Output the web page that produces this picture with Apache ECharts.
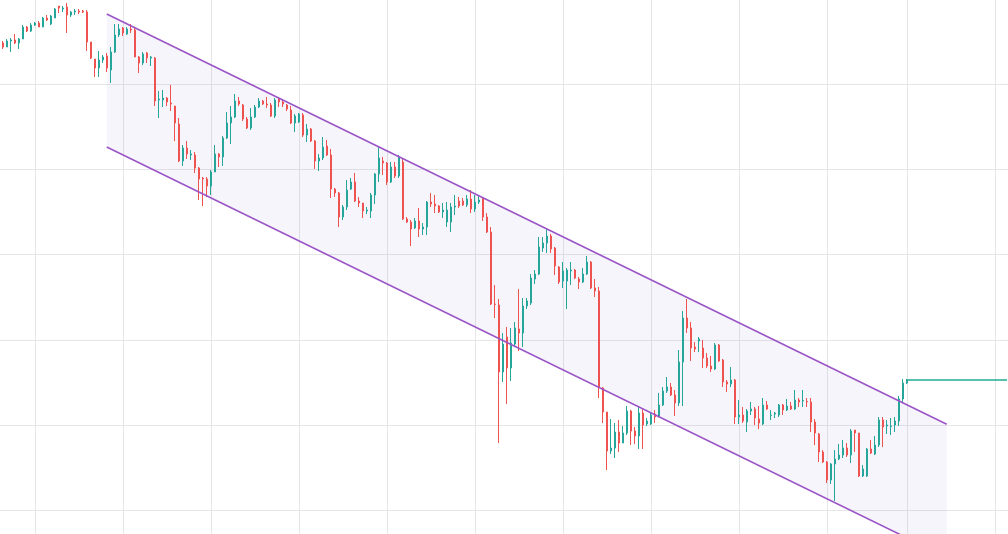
<!DOCTYPE html>
<html>
<head>
<meta charset="utf-8">
<style>
html,body{margin:0;padding:0;background:#ffffff;}
#chart{width:1008px;height:534px;}
</style>
<script src="https://cdn.jsdelivr.net/npm/echarts@6/dist/echarts.min.js"></script>
</head>
<body>
<div id="chart"></div>
<script>
// Candle values (open, close, low, high), bar by bar
const opens = [553,549,555,556,553,557,569,565,571,573,569,578,572,578,590,587,589,581,584,585,585,584,554,537,528,536,540,526,544,561,568,562,567,566,539,533,543,538,538,496,496,498,493,490,472,435,448,441,441,428,418,417,410,424,442,439,458,473,479,495,491,477,468,479,489,495,492,491,480,497,494,491,486,473,474,481,461,467,455,435,438,450,441,407,403,379,389,407,414,395,393,385,385,401,422,435,433,414,429,420,434,377,374,368,375,367,369,394,392,390,384,374,374,389,395,395,391,397,387,394,397,379,364,292,291,224,259,228,252,267,263,290,293,317,322,348,353,360,348,329,315,315,325,326,317,314,322,334,308,305,208,184,145,148,164,153,163,185,165,160,183,172,172,182,179,191,205,209,201,193,234,278,268,249,255,248,238,230,227,251,236,214,212,216,179,181,174,185,187,177,172,191,180.5,182,181,191,186,190,187,196,195,194.5,194,174,162,144,134,116,132,137,141,148,141,166,163,120,120,147,142,151,176,170,169.5,171,175,197,213];
const closes = [549,555,556,553,557,569,565,571,573,569,578,576,580,587,588,588,581,584,585,584,584,554,538,528,536,539,528,544,561,567,563,567,566,539,533,542,538,539,495,497,498,494,492,473,435,448,442,442,428,417,417,410,424,442,439,458,473,479,495,492,477,468,479,489,495,492,491,480,496,494,492,487,473,480,482,461,467,455,435,438,449,441,407,403,379,389,406,414,395,393,385,386,401,422,438,433,414,429,420,439,377,374,367,375,367,369,394,392,390,384,386,386,389,390,390,391,397,387,394,396,379,364,292,291.5,224,252,228,253,268,263,290,295,318,322,349,353,360,347,330,314,325,326,326,318,314,322,334,308,305,209,184,145,148,164,153,163,185,165,160,183,171,175,181,179,191,205,209,201,193,234,278,268,248,247,257,238,230,227,251,235,214,212,216,179,181,175,185,187,178,173,191,187,181,183,191,186,190,187,196,194,195.5,194,174,163,144,134,116,132,137,141,148,141,165,163,120,127,147,143,151,176,169,171,170,175,197,213,216];
const lows = [547,549,544,552,547,557,564,564,570,569,569,575,571,578,583,584,563,579,581,582,583,545,537,519,519,533,524,513,543,559,560,561,563,539,523,531,533,530,490,478,489,490,485,455,434,430,437,436,423,396,390,399,401,424,429,430,457,452,478,490,475,467,466,478,488,491,488,479,478,489,489,485,472,464,473,459,454,454,427,425,436,440,398,399,369,376,386,406,394,389,378,382,378,392,414,421,411,413,418,418,376,373,350,367,359,361,361,389,383,383,378,369,364,381,388,390,389,383,384,392,375,363,291,278,153,214,192,215,249,245,249,287,291,312,321,344,343,343,321,312,308,287,311,317,307,313,321,307,299,198,173,126,142,138,144,153,161,151,152,147,147,170,171,173,179,190,203,200,180,190,190,263,235,244,244,228,228,224,226,234,209,204,209,172,172,173,164,181,171,167,171,186,176,178,179,181,185,186,186,189,189,189,164,151,134,133,113,112,95,136,138,139,133,144,119,119,119,142,141,149,149,162,161,164,170,194,212];
const highs = [555,557,558,562,558,571,570,573,574,575,579,581,581,588,590,590,593,585,587,587,586,586,554,537,545,541,543,549,572,572,569,569,572,568,540,544,544,540,539,505,506,499,511,490,478,451,455,446,444,429,419,419,426,451,443,460,484,490,502,499,492,479,488,491,498,496,499,493,498,499,497,492,490,482,483,483,472,468,456,442,459,456,447,408,404,391,416,418,423,399,393,389,403,423,449,439,434,434,434,441,437,379,376,378,388,373,395,403,401,391,393,394,393,401,399,398,401,406,401,401,398,383,369,311,297,263,269,268,274,307,298,298,322,326,359,359,367,362,349,330,334,328,334,327,319,328,340,335,317,309,209,184,177,173,176,170,190,186,169,189,188,178,183,186,203,209,219,213,206,246,285,297,274,254,259,256,243,240,253,252,237,216,229,217,196,189,187,194,189,190,198,195,186,184,192,192,197,194,206,198,206,198,198,177,163,146,135,133,146,152,156,153,167,166,163,131,148,156,160,179,179,176,178,179,200,217,217];
const barCount = 252;               // slots on the time axis (data + empty space on the right)
const categories = Array.from({length: barCount}, (_, i) => String(i + 1));
// bars that open a new period (vertical grid lines)
const periodStarts = [8, 30, 52, 74, 96, 118, 140, 162, 184, 206, 226, 248];
// horizontal price levels (grid lines)
const priceLevels = [85.33, 170.67, 256, 341.33, 426.67, 512];

// Descending channel: anchor bars and prices
const channelX = [25.93, 235.93];
const channelUpper = [582, 171.7];
const channelLower = [449, 38.7];

const candleData = opens.map((o, i) => [o, closes[i], lows[i], highs[i]]);
const lastIdx = closes.length - 1;
const lastClose = closes[lastIdx];
const periodSet = new Set(periodStarts);

const chart = echarts.init(document.getElementById('chart'), null, {renderer: 'canvas'});
chart.setOption({
  animation: false,
  backgroundColor: '#ffffff',
  grid: [
    {left: 3, width: 1004, top: 0, height: 534},
    {left: 0, width: 1008, top: 0, height: 534}
  ],
  xAxis: [
    {
      type: 'category', gridIndex: 0, data: categories, boundaryGap: false,
      axisLine: {show: false}, axisTick: {show: false}, axisLabel: {show: false},
      splitLine: {show: true, interval: (i) => periodSet.has(i), lineStyle: {color: '#e6e6e6', width: 1}}
    },
    {type: 'value', gridIndex: 0, min: 0, max: barCount - 1, show: false, splitLine: {show: false}},
    {type: 'value', gridIndex: 1, min: 0, max: 1, show: false, splitLine: {show: false}}
  ],
  yAxis: [
    {
      type: 'value', gridIndex: 0, min: 62, max: 596,
      axisLine: {show: false}, axisTick: {show: false}, axisLabel: {show: false},
      splitLine: {show: false}
    },
    {
      type: 'value', gridIndex: 1, min: 62, max: 596, show: false, splitLine: {show: false}
    }
  ],
  series: [
    {
      // horizontal grid lines across the full width
      type: 'line', xAxisIndex: 2, yAxisIndex: 1, z: 0, silent: true, symbol: 'none',
      data: [],
      markLine: {
        silent: true, symbol: 'none', label: {show: false}, z: 0, animation: false,
        lineStyle: {color: '#e6e6e6', width: 1, type: 'solid'},
        data: priceLevels.map(v => ({yAxis: v}))
      }
    },
    {
      type: 'custom', xAxisIndex: 1, yAxisIndex: 0, z: 1, silent: true, clip: false,
      data: [[channelX[0], channelUpper[0], channelLower[0], channelX[1], channelUpper[1], channelLower[1]]],
      encode: {x: [0, 3], y: [1, 2, 4, 5]},
      renderItem: (params, api) => {
        const a = api.coord([api.value(0), api.value(1)]);
        const b = api.coord([api.value(3), api.value(4)]);
        const c = api.coord([api.value(3), api.value(5)]);
        const d = api.coord([api.value(0), api.value(2)]);
        return {type: 'polygon', shape: {points: [a, b, c, d]}, style: {fill: 'rgba(120,80,200,0.06)'}};
      }
    },
    {
      type: 'line', xAxisIndex: 1, yAxisIndex: 0, symbol: 'none', z: 4,
      data: channelX.map((x, i) => [x, channelUpper[i]]),
      lineStyle: {color: '#9a55c6', width: 1.6}
    },
    {
      type: 'line', xAxisIndex: 1, yAxisIndex: 0, symbol: 'none', z: 4,
      data: channelX.map((x, i) => [x, channelLower[i]]),
      lineStyle: {color: '#9a55c6', width: 1.6}
    },
    {
      type: 'candlestick', xAxisIndex: 0, yAxisIndex: 0, z: 3, clip: false,
      barWidth: 2,
      data: candleData,
      itemStyle: {
        color: '#26a69a', color0: '#ef5350',
        borderColor: '#26a69a', borderColor0: '#ef5350', borderWidth: 1
      }
    },
    {
      type: 'line', xAxisIndex: 1, yAxisIndex: 0, symbol: 'none', z: 2,
      data: [[lastIdx, lastClose], [barCount - 1, lastClose]],
      lineStyle: {color: '#22ab94', width: 1.5}
    }
  ]
});
</script>
</body>
</html>
